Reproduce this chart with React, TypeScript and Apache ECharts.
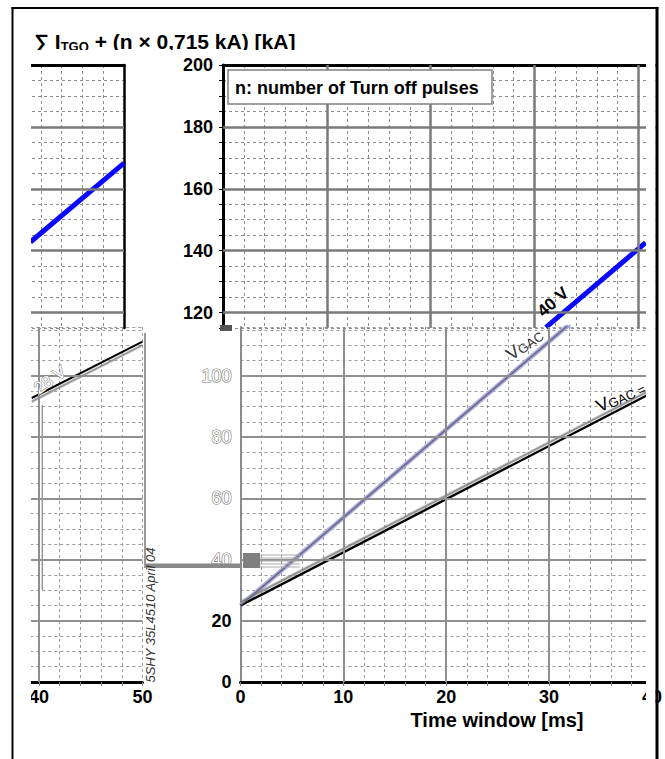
import React, { useEffect, useRef } from "react";
import * as echarts from "echarts";

const FONT = '"Liberation Sans", Arial, Helvetica, sans-serif';

// ---- tick / grid values ----
const upperMajorY = [120, 140, 160, 180];
const upperMajorX = [10, 20, 30, 40];
const lowerMajorY = [20, 40, 60, 80, 100];
const lowerMajorX = [10, 20, 30];
const leftLowerMajorX = [40];

// ---- curves (x = time window [ms], y = sum I_TGQ + n*0.715 kA [kA]) ----
const vgac40Lower = [[0, 25], [32, 117]];
const vgac40Upper = [[31.1, 115.2], [40.7, 142.6]];
const vgac40Left = [[41, 142.8], [50, 168.3]];
const vgac28Lower = [[0, 25], [40, 94.5]];
const vgac28Left = [[39.3, 92.8], [50, 111.2]];

const dashed = (color: string) => ({ show: true, lineStyle: { type: [3, 3] as any, color, width: 1 } });

function majors(xs: number[], ys: number[], color: string, width: number) {
  return {
    silent: true,
    symbol: ["none", "none"],
    label: { show: false },
    emphasis: { disabled: true },
    animation: false,
    lineStyle: { type: "solid", color, width },
    data: [...ys.map((v) => ({ yAxis: v })), ...xs.map((v) => ({ xAxis: v }))],
  };
}

function buildOption(): any {
  const tickLbl = { fontSize: 18, fontWeight: "bold", color: "#000", fontFamily: FONT };
  const grids = [
    { left: 223, top: 65, width: 433, height: 263 },
    { left: 20, top: 65, width: 104, height: 263 },
    { left: 240.5, top: 327, width: 414, height: 355 },
    { left: 18.3, top: 327, width: 124.2, height: 355 },
  ];
  const xAxis = [
    {
      type: "value", gridIndex: 0, min: 0, max: 41.7, interval: 2, position: "top",
      axisLine: { show: true, onZero: false, lineStyle: { color: "#000", width: 3 } },
      axisTick: { show: false }, axisLabel: { show: false }, splitLine: dashed("#8c8c8c"),
    },
    {
      type: "value", gridIndex: 1, min: 40, max: 50, interval: 2, position: "top",
      axisLine: { show: true, onZero: false, lineStyle: { color: "#000", width: 3 } },
      axisTick: { show: false }, axisLabel: { show: false }, splitLine: dashed("#8c8c8c"),
    },
    {
      type: "value", gridIndex: 2, min: 0, max: 40, interval: 2, position: "bottom",
      axisLine: { show: true, onZero: false, lineStyle: { color: "#000", width: 3 } },
      axisTick: { show: true, length: 4, lineStyle: { color: "#888" } },
      axisLabel: { ...tickLbl, margin: 6, formatter: (v: number) => (v % 10 === 0 ? String(v) : "") },
      splitLine: dashed("#9a9a9a"),
    },
    {
      type: "value", gridIndex: 3, min: 38, max: 50, interval: 2, position: "bottom",
      axisLine: { show: true, onZero: false, lineStyle: { color: "#000", width: 3 } },
      axisTick: { show: true, length: 4, lineStyle: { color: "#888" } },
      axisLabel: { ...tickLbl, margin: 6, formatter: (v: number) => (v % 10 === 0 ? String(v) : "") },
      splitLine: dashed("#9a9a9a"),
    },
  ];
  const yAxis = [
    {
      type: "value", gridIndex: 0, min: 115, max: 200, interval: 5, position: "left",
      axisLine: { show: true, onZero: false, lineStyle: { color: "#000", width: 3 } },
      axisTick: { show: true, length: 4, lineStyle: { color: "#000" } },
      axisLabel: { ...tickLbl, margin: 10, formatter: (v: number) => (v % 20 === 0 ? String(v) : "") },
      splitLine: dashed("#8c8c8c"),
    },
    {
      type: "value", gridIndex: 1, min: 115, max: 200, interval: 5, position: "right",
      axisLine: { show: true, onZero: false, lineStyle: { color: "#000", width: 2.5 } },
      axisTick: { show: false }, axisLabel: { show: false }, splitLine: dashed("#8c8c8c"),
    },
    {
      type: "value", gridIndex: 2, min: 0, max: 116, interval: 5, position: "left",
      axisLine: { show: true, onZero: false, lineStyle: { color: "#8a8a8a", width: 2 } },
      axisTick: { show: false },
      axisLabel: {
        margin: 9,
        formatter: (v: number) => (v % 20 !== 0 ? "" : v <= 20 ? `{b|${v}}` : `{h|${v}}`),
        rich: {
          b: { fontSize: 18, fontWeight: "bold", color: "#000", fontFamily: FONT },
          h: { fontSize: 18, color: "#fff", textBorderColor: "#777", textBorderWidth: 1.2, fontFamily: FONT },
        },
      },
      splitLine: dashed("#9a9a9a"),
    },
    {
      type: "value", gridIndex: 3, min: 0, max: 116, interval: 5, position: "left",
      axisLine: { show: false }, axisTick: { show: false }, axisLabel: { show: false },
      splitLine: dashed("#9a9a9a"),
    },
  ];

  const line = (i: number, data: number[][], lineStyle: any, z = 3) => ({
    type: "line", xAxisIndex: i, yAxisIndex: i, data, z, symbol: "none", showSymbol: false,
    silent: true, clip: true, animation: false, lineStyle,
  });
  const host = (i: number, mk: any) => ({
    type: "line", xAxisIndex: i, yAxisIndex: i, data: [], z: 1, symbol: "none", silent: true, markLine: mk,
  });

  const series = [
    host(0, majors(upperMajorX, upperMajorY, "#7a7a7a", 2.5)),
    host(1, majors([], upperMajorY, "#7a7a7a", 2.5)),
    host(2, majors(lowerMajorX, lowerMajorY, "#8f8f8f", 2)),
    host(3, majors(leftLowerMajorX, lowerMajorY, "#8f8f8f", 2)),
    line(0, vgac40Upper, { color: "#0808ff", width: 5 }),
    line(1, vgac40Left, { color: "#0808ff", width: 5 }),
    line(2, vgac40Lower, { color: "#a9abee", width: 4.5 }),
    line(2, vgac40Lower, { color: "#6a6a6a", width: 1.5 }, 4),
    line(2, vgac28Lower, { color: "#000", width: 2.4, shadowColor: "rgba(130,130,130,0.9)", shadowBlur: 0, shadowOffsetY: -3.5 }),
    line(3, vgac28Left, { color: "#000", width: 2, shadowColor: "rgba(130,130,130,0.9)", shadowBlur: 0, shadowOffsetY: 3.5 }),
  ];

  const txt = (x: number, y: number, style: any, rotation = 0, z = 100) => ({
    type: "text", x, y, rotation, z, silent: true, style: { fontFamily: FONT, ...style },
  });
  const rect = (x: number, y: number, w: number, h: number, style: any, z = 100) => ({
    type: "rect", z, silent: true, shape: { x, y, width: w, height: h }, style,
  });
  const seg = (x1: number, y1: number, x2: number, y2: number, stroke: string, lineWidth: number, z = 100) => ({
    type: "line", z, silent: true, shape: { x1, y1, x2, y2 }, style: { stroke, lineWidth },
  });

  const graphic = [
    // scan artefacts
    rect(145, 563.5, 96, 4.5, { fill: "#8a8a8a" }, 50),
    rect(243, 553, 17, 15, { fill: "#808080" }, 50),
    ...[555, 558, 561, 564, 567].map((y) => seg(260, y, 300, y, "#aaa", 1, 50)),
    seg(145, 333, 145, 568, "#999", 2, 50),
    seg(42.3, 405, 42.3, 590, "#999", 1.5, 50),
    rect(220, 325, 12, 6, { fill: "#555" }, 50),
    // title
    txt(34, 30, {
      text: "{a|∑ I}{s|TGQ}{a| + (n × 0,715 kA) [kA]}",
      verticalAlign: "top",
      rich: {
        a: { fontSize: 21, fontWeight: "bold", fontFamily: FONT, fill: "#000", lineHeight: 23 },
        s: { fontSize: 13, fontWeight: "bold", fontFamily: FONT, fill: "#000", lineHeight: 13, verticalAlign: "bottom" },
      },
    }),
    rect(30, 50, 300, 8, { fill: "#fff" }, 101),
    // legend box
    rect(228, 70, 264, 34, { fill: "#fff", stroke: "#808080", lineWidth: 1.5 }, 90),
    txt(235, 87.5, { text: "n: number of Turn off pulses", fontSize: 18, fontWeight: "bold", fill: "#000", verticalAlign: "middle" }),
    // curve labels
    txt(553, 302, { text: "40 V", fontSize: 17, fontWeight: "bold", fill: "#000", align: "center", verticalAlign: "middle" }, 0.72),
    txt(508, 356, {
      text: "{v|V}{s|GAC}", verticalAlign: "middle",
      rich: {
        v: { fontSize: 18, fontFamily: FONT, fill: "#333" },
        s: { fontSize: 13, fontFamily: FONT, fill: "#333", verticalAlign: "bottom" },
      },
    }, 0.62),
    txt(597, 407, {
      text: "{v|V}{s|GAC =}", verticalAlign: "middle",
      rich: {
        v: { fontSize: 18, fontFamily: FONT, fill: "#000" },
        s: { fontSize: 13, fontFamily: FONT, fill: "#000", verticalAlign: "bottom" },
      },
    }, 0.42),
    txt(50, 380, { text: "28 V", fontSize: 17, fill: "#fff", stroke: "#777", lineWidth: 1, align: "center", verticalAlign: "middle" }, 0.62),
    txt(497, 720, { text: "Time window [ms]", fontSize: 20, fontWeight: "bold", fill: "#000", align: "center", verticalAlign: "middle" }),
    txt(150, 615, { text: "5SHY 35L4510 April 04", fontSize: 13, fontStyle: "italic", fill: "#333", align: "center", verticalAlign: "middle" }, Math.PI / 2),
    // white covers
    rect(646, 10, 9.5, 749, { fill: "#fff" }, 105),
    rect(13.6, 20, 17.4, 700, { fill: "#fff" }, 105),
    // frame
    seg(12.5, 7, 12.5, 759, "#000", 2, 110),
    seg(11.5, 8, 658.5, 8, "#000", 2, 110),
    seg(657, 7, 657, 759, "#000", 3, 110),
  ];

  return {
    animation: false,
    backgroundColor: "#fff",
    grid: grids,
    xAxis,
    yAxis,
    series,
    graphic: { elements: graphic },
  };
}

export default function App() {
  const ref = useRef<HTMLDivElement>(null);
  useEffect(() => {
    document.body.style.margin = "0";
    const chart = echarts.init(ref.current!, null, { renderer: "svg" });
    chart.setOption(buildOption());
    return () => chart.dispose();
  }, []);
  return <div ref={ref} style={{ width: 665, height: 759 }} />;
}
